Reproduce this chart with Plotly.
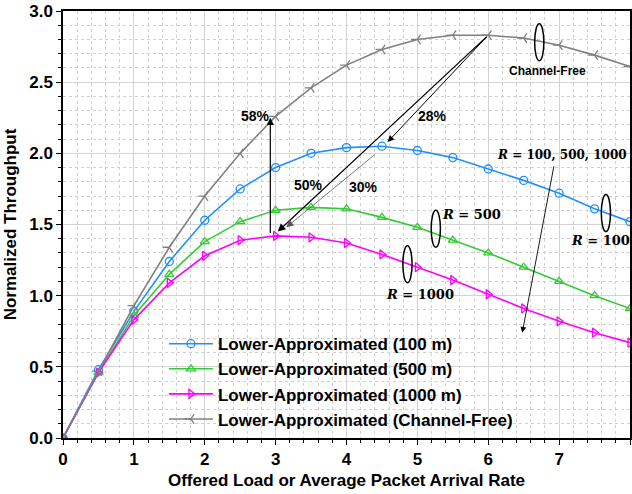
import plotly.graph_objects as go

load = [0, 0.5, 1, 1.5, 2, 2.5, 3, 3.5, 4, 4.5, 5, 5.5, 6, 6.5, 7, 7.5, 8]
thr_100 = [0, 0.48, 0.89, 1.24, 1.53, 1.75, 1.90, 2.00, 2.04, 2.05, 2.02, 1.97, 1.89, 1.81, 1.72, 1.61, 1.52]
thr_500 = [0, 0.46, 0.86, 1.15, 1.38, 1.52, 1.60, 1.62, 1.61, 1.55, 1.48, 1.39, 1.30, 1.20, 1.10, 1.00, 0.91]
thr_1000 = [0, 0.46, 0.83, 1.09, 1.28, 1.39, 1.42, 1.41, 1.37, 1.29, 1.20, 1.11, 1.01, 0.91, 0.82, 0.74, 0.67]
thr_free = [0, 0.47, 0.93, 1.34, 1.70, 2.00, 2.26, 2.46, 2.62, 2.73, 2.80, 2.83, 2.83, 2.81, 2.76, 2.69, 2.61]

names = ["Lower-Approximated (100 m)", "Lower-Approximated (500 m)",
         "Lower-Approximated (1000 m)", "Lower-Approximated (Channel-Free)"]
colors = ["#1E90FF", "#33CC33", "#FF00FF", "#808080"]
symbols = ["circle-open", "triangle-up-open", "triangle-right-open", "y-left"]
series = [thr_100, thr_500, thr_1000, thr_free]

FONT = "Liberation Sans, Arial, sans-serif"
SERIF = "DejaVu Serif, serif"

fig = go.Figure()
for name, col, sym, ys in zip(names, colors, symbols, series):
    fig.add_trace(go.Scatter(
        x=load, y=ys, name="<b>" + name + "</b>", mode="lines+markers",
        line=dict(color=col, width=1.6),
        marker=dict(symbol=sym, size=8, color=col, line=dict(color=col, width=1.3)),
    ))

anns = []
def arrow(x0, y0, x1, y1, color="black", width=1, head=2, size=1):
    anns.append(dict(x=x1, y=y1, ax=x0, ay=y0, xref="x", yref="y", axref="x", ayref="y",
                     showarrow=True, arrowhead=head, arrowsize=size, arrowwidth=width,
                     arrowcolor=color, text=""))

def label(x, y, text, size=13, family=FONT, xanchor="center"):
    anns.append(dict(x=x, y=y, xref="x", yref="y", text=text, showarrow=False,
                     xanchor=xanchor,
                     font=dict(family=family, size=size, color="black")))

# arrows
arrow(2.925, 1.43, 2.925, 2.25, width=1.2, head=2, size=1.2)
arrow(6.0, 2.83, 4.58, 2.08, width=1, head=2, size=1.3)
arrow(6.0, 2.83, 3.03, 1.45, width=1.2, head=2, size=1.3)
arrow(4.42, 2.0, 3.15, 1.48, color="#555555", width=0.8, head=2, size=1.8)
arrow(6.93, 1.92, 6.48, 0.74, width=0.9, head=2, size=1.3)

label(2.72, 2.26, "<b>58%</b>", size=14)
label(5.21, 2.26, "<b>28%</b>", size=14)
label(3.46, 1.78, "<b>50%</b>", size=14)
label(4.24, 1.76, "<b>30%</b>", size=14)
label(6.83, 2.58, "<b>Channel-Free</b>", size=12)
label(7.98, 1.99, "<b><i>R</i> = 100, 500, 1000</b>", size=12, family=SERIF, xanchor="right")
label(7.58, 1.39, "<b><i>R</i> = 100</b>", size=13, family=SERIF)
label(5.76, 1.57, "<b><i>R</i> = 500</b>", size=13, family=SERIF)
label(5.03, 1.01, "<b><i>R</i> = 1000</b>", size=13, family=SERIF)

shapes = []
for cx, cy in [(6.72, 2.78), (7.66, 1.58), (5.26, 1.47), (4.86, 1.22)]:
    shapes.append(dict(type="circle", xref="x", yref="y",
                       x0=cx - 0.065, x1=cx + 0.065, y0=cy - 0.13, y1=cy + 0.13,
                       line=dict(color="black", width=1.5)))

axis_common = dict(
    showline=True, linecolor="black", linewidth=1.5, mirror=True,
    ticks="outside", ticklen=5, tickwidth=1.2, tickcolor="black",
    showgrid=True, gridcolor="#D3D3D3", gridwidth=1.3, zeroline=False,
    tickfont=dict(family=FONT, size=17, color="black"),
)

fig.update_layout(
    width=632, height=494,
    margin=dict(l=63, r=0, t=11, b=56),
    paper_bgcolor="white", plot_bgcolor="white",
    font=dict(family=FONT, color="black"),
    xaxis=dict(range=[0, 8], dtick=1, tickformat="d",
               title=dict(text="<b>Offered Load or Average Packet Arrival Rate</b>",
                          font=dict(family=FONT, size=17), standoff=6),
               minor=dict(dtick=0.2, showgrid=True, gridcolor="#D0D0D0", griddash="dot",
                          gridwidth=1, ticks="outside", ticklen=3, tickcolor="black"),
               **axis_common),
    yaxis=dict(range=[0, 3], dtick=0.5, tickformat=".1f",
               title=dict(text="<b>Normalized Throughput</b>",
                          font=dict(family=FONT, size=17), standoff=8),
               minor=dict(dtick=0.1, showgrid=True, gridcolor="#D0D0D0", griddash="dot",
                          gridwidth=1, ticks="outside", ticklen=3, tickcolor="black"),
               **axis_common),
    legend=dict(x=0.178, y=0.262, xanchor="left", yanchor="top",
                bgcolor="rgba(0,0,0,0)", borderwidth=0, itemwidth=44,
                font=dict(family=FONT, size=17, color="black"),
                tracegroupgap=0),
    annotations=anns, shapes=shapes,
)
fig.update_xaxes(tickprefix="<b>", ticksuffix="</b>")
fig.update_yaxes(tickprefix="<b>", ticksuffix="</b>")

fig.write_html("out.html")
